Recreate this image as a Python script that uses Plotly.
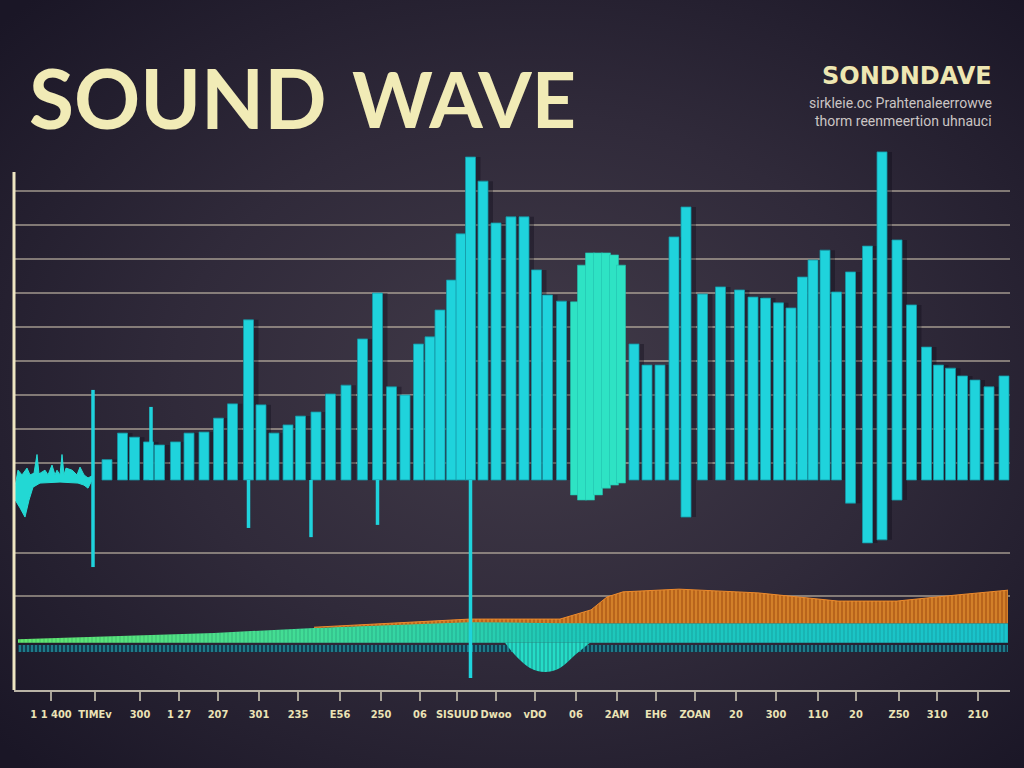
import base64
import plotly.graph_objects as go

# ---------------- data ----------------
# main amplitude bars (time units, amplitude units)
bar_t = [9.3, 10.85, 12.05, 13.45, 14.55, 16.15, 17.5, 19.0, 20.45, 21.85, 23.45, 24.7, 26.0, 27.4,
         28.65, 30.2, 31.65, 33.2, 34.85, 36.35, 37.75, 39.1, 40.45, 41.6, 42.6, 43.75, 44.7, 45.65,
         46.9, 48.2, 49.7, 51.0, 52.25, 53.35, 54.75, 62.0, 63.3, 64.6, 66.0, 67.2, 68.85, 70.65,
         72.55, 73.9, 75.15, 76.45, 77.7, 78.85, 79.9, 81.1, 82.25, 83.65, 85.35, 86.8, 88.3, 89.75,
         91.25, 92.45, 93.65, 94.85, 96.1, 97.5, 99.0]
bar_top = [6.0, 13.8, 12.6, 11.2, 10.3, 11.2, 13.8, 14.1, 18.2, 22.4, 47.1, 22.1, 13.8, 16.2,
           18.8, 20.0, 25.3, 27.9, 41.5, 55.0, 27.4, 25.0, 40.0, 42.1, 50.0, 58.8, 72.4, 95.0,
           87.9, 75.6, 77.4, 77.4, 61.8, 54.4, 52.6, 40.0, 33.8, 33.8, 71.5, 80.3, 54.7, 56.8,
           55.9, 53.8, 53.5, 52.1, 50.6, 59.7, 64.7, 67.6, 55.3, 61.2, 68.8, 96.5, 70.6, 51.5,
           39.1, 33.8, 32.9, 30.6, 29.4, 27.4, 30.6]
bar_bottom = [0, 0, 0, 0, 0, 0, 0, 0, 0, 0, 0, 0, 0, 0,
              0, 0, 0, 0, 0, 0, 0, 0, 0, 0, 0, 0, 0, 0,
              0, 0, 0, 0, 0, 0, 0, 0, 0, 0, 0, -10.9, 0, 0,
              0, 0, 0, 0, 0, 0, 0, 0, 0, -6.8, -18.5, -17.6, -5.9, 0,
              0, 0, 0, 0, 0, 0, 0]

# green "blob" section
blob_t = [56.1, 56.8, 57.6, 58.4, 59.2, 60.0, 60.7]
blob_top = [52.4, 63.2, 66.8, 66.8, 66.8, 66.2, 63.2]
blob_bottom = [-4.4, -5.9, -5.9, -4.4, -2.4, -1.5, -0.9]

# thin spikes
spike_t = [7.9, 13.7, 23.45, 29.7, 36.35, 45.65]
spike_top = [26.5, 21.5, 0, 0, 0, 0]
spike_bottom = [-25.6, 0, -14.1, -16.8, -13.2, -58.2]

# left noisy waveform envelope
wave_upper_t = [0.0, 0.4, 0.8, 1.3, 1.6, 2.0, 2.3, 2.5, 3.1, 3.4, 3.8, 4.1, 4.3, 4.6, 4.8,
                5.0, 5.2, 5.8, 6.3, 6.6, 7.0, 7.4, 7.8]
wave_upper_a = [-3.5, 2.9, 1.5, 3.5, 1.5, 2.0, 7.5, 1.8, 2.9, 1.5, 4.4, 1.5, 2.9, 1.5, 7.5,
                1.5, 3.5, 2.9, 1.5, 3.8, 1.5, 0.6, 1.2]
wave_lower_t = [7.8, 7.4, 7.0, 6.4, 4.6, 2.6, 1.9, 1.5, 1.1, 0.6, 0.0]
wave_lower_a = [0.0, -2.4, -1.5, -0.9, -0.6, -0.9, -2.1, -5.9, -10.9, -8.2, -5.3]

# lower spectrum: orange layer
orange_t = [30.0, 45.6, 54.6, 56.1, 57.7, 59.3, 60.9, 66.5, 74.4, 82.4, 88.3, 94.3, 99.4]
orange_top = [-43.3, -40.9, -40.9, -39.7, -38.2, -34.4, -32.9, -32.1, -33.2, -35.6, -35.6, -33.8, -32.4]
orange_base = [-43.5, -41.8, -42.1, -42.1, -42.1, -42.1, -42.1, -42.1, -42.1, -42.1, -42.1, -42.1, -42.1]

# lower spectrum: green/teal band
band_t = [0.4, 10.0, 20.0, 30.0, 40.0, 45.6, 58.0, 99.4]
band_top = [-46.8, -45.9, -45.0, -43.5, -42.1, -41.5, -42.1, -42.1]
band_base = -47.9

# bowl dip under the band
bowl_t = [49.1, 50.1, 51.6, 53.1, 54.6, 56.1, 57.6]
bowl_bottom = [-47.9, -51.5, -55.3, -56.5, -55.3, -51.5, -47.9]

# dotted sample row
dots_t = [0.4, 99.4]
dots_top = -48.5
dots_bottom = -50.6

# axis ticks
tick_t = [3.7, 8.1, 12.6, 16.5, 20.4, 24.5, 28.4, 32.6, 36.7, 40.6, 44.3, 48.2,
          52.1, 56.2, 60.3, 64.2, 68.1, 72.2, 76.2, 80.4, 84.2, 88.5, 92.3, 96.4]
tick_text = ["1 1 400", "TIMEv", "300", "1 27", "207", "301", "235", "E56", "250", "06", "SISUUD", "Dwoo",
             "vDO", "06", "2AM", "EH6", "ZOAN", "20", "300", "110", "20", "Z50", "310", "210"]
grid_vals = [85, 75, 65, 55, 45, 35, 25, 15, 5, -21.5, -34]

# ---------------- layout geometry ----------------
W, H = 1024, 768
ML, MR, MT, MB = 14, 14, 150, 78
PW, PH = W - ML - MR, H - MT - MB
X_RANGE = [0, 99.6]
Y_RANGE = [-61.76, 97.06]
Y_AXIS_TOP = 90.6


def px(x):
    return (x - ML) / PW


def py(y):
    return (H - MB - y) / PH


CYAN = "#1fd3dc"
CYAN_EDGE = "#1595a3"
CREAM = "#f1ebb6"

fig = go.Figure()

# lower band (green -> teal gradient)
fig.add_trace(go.Scatter(x=band_t, y=[band_base] * len(band_t), mode="lines",
                         line=dict(width=0), hoverinfo="skip", showlegend=False))
fig.add_trace(go.Scatter(x=band_t, y=band_top, mode="lines", line=dict(width=0),
                         fill="tonexty",
                         fillgradient=dict(type="horizontal",
                                           colorscale=[[0, "#63e86e"], [0.3, "#3fdc98"],
                                                       [0.55, "#1ec9b9"], [1, "#19c3cc"]]),
                         hoverinfo="skip", showlegend=False))
# stripe texture on band
fig.add_trace(go.Scatter(x=band_t, y=[band_base] * len(band_t), mode="lines",
                         line=dict(width=0), hoverinfo="skip", showlegend=False))
fig.add_trace(go.Scatter(x=band_t, y=band_top, mode="lines", line=dict(width=0),
                         fill="tonexty", fillcolor="rgba(0,0,0,0)",
                         fillpattern=dict(shape="|", size=4, solidity=0.3,
                                          fgcolor="rgba(8,60,70,0.45)", bgcolor="rgba(0,0,0,0)"),
                         hoverinfo="skip", showlegend=False))

# orange layer
fig.add_trace(go.Scatter(x=orange_t, y=orange_base, mode="lines", line=dict(width=0),
                         hoverinfo="skip", showlegend=False))
fig.add_trace(go.Scatter(x=orange_t, y=orange_top, mode="lines",
                         line=dict(width=1, color="#ee8a2c"),
                         fill="tonexty", fillcolor="#d9801f",
                         fillpattern=dict(shape="|", size=4, solidity=0.45,
                                          fgcolor="#f3a23a", bgcolor="#b8641c"),
                         hoverinfo="skip", showlegend=False))

# dotted row
fig.add_trace(go.Scatter(x=dots_t, y=[dots_bottom] * len(dots_t), mode="lines",
                         line=dict(width=0), hoverinfo="skip", showlegend=False))
fig.add_trace(go.Scatter(x=dots_t, y=[dots_top] * len(dots_t), mode="lines",
                         line=dict(width=0), fill="tonexty", fillcolor="#15485a",
                         fillpattern=dict(shape="|", size=4, solidity=0.45,
                                          fgcolor="#2bc4cf", bgcolor="#123e50"),
                         hoverinfo="skip", showlegend=False))

# bowl
fig.add_trace(go.Scatter(x=bowl_t, y=[band_base] * len(bowl_t), mode="lines",
                         line=dict(width=0), hoverinfo="skip", showlegend=False))
fig.add_trace(go.Scatter(x=bowl_t, y=bowl_bottom, mode="lines", line=dict(width=0, shape="spline"),
                         fill="tonexty", fillcolor="#22d6c4",
                         fillpattern=dict(shape="|", size=4, solidity=0.3,
                                          fgcolor="#14606a", bgcolor="#25dcc6"),
                         hoverinfo="skip", showlegend=False))

# left waveform
fig.add_trace(go.Scatter(x=wave_upper_t + wave_lower_t, y=wave_upper_a + wave_lower_a,
                         mode="lines", line=dict(width=1, color="#27dcd6"),
                         fill="toself", fillcolor="#22d8d4", hoverinfo="skip", showlegend=False))

bar_len = [t - b for t, b in zip(bar_top, bar_bottom)]
# soft drop shadow of bars
fig.add_trace(go.Bar(x=bar_t, y=bar_len, base=bar_bottom, width=1.2, offset=-0.2,
                     marker=dict(color="rgba(12,8,22,0.35)", line=dict(width=0)),
                     hoverinfo="skip", showlegend=False))
# main bars
fig.add_trace(go.Bar(x=bar_t, y=bar_len, base=bar_bottom,
                     width=1.0, marker=dict(color=CYAN, line=dict(color=CYAN_EDGE, width=0.8)),
                     hoverinfo="skip", showlegend=False))
# green blob
fig.add_trace(go.Bar(x=blob_t, y=[t - b for t, b in zip(blob_top, blob_bottom)], base=blob_bottom,
                     width=0.9, marker=dict(color="#2ee3c4", line=dict(color="#22bfae", width=0.6)),
                     hoverinfo="skip", showlegend=False))

# spikes
sx, sy = [], []
for t, top, bot in zip(spike_t, spike_top, spike_bottom):
    sx += [t, t, None]
    sy += [bot, top, None]
fig.add_trace(go.Scatter(x=sx, y=sy, mode="lines", line=dict(color=CYAN, width=3.5),
                         hoverinfo="skip", showlegend=False))

# background vignette
svg = ('<svg xmlns="http://www.w3.org/2000/svg" width="1024" height="768">'
       '<defs><radialGradient id="g" cx="52%" cy="50%" r="70%">'
       '<stop offset="0" stop-color="#423b49"/><stop offset="0.5" stop-color="#302a3a"/>'
       '<stop offset="1" stop-color="#1a1626"/></radialGradient></defs>'
       '<rect width="1024" height="768" fill="url(#g)"/></svg>')
src = "data:image/svg+xml;base64," + base64.b64encode(svg.encode()).decode()

fig.update_layout(
    width=W, height=H,
    margin=dict(l=ML, r=MR, t=MT, b=MB, pad=0),
    paper_bgcolor="#241f30", plot_bgcolor="rgba(0,0,0,0)",
    barmode="overlay",
    images=[dict(source=src, xref="paper", yref="paper", x=-ML / PW, y=1 + MT / PH,
                 sizex=W / PW, sizey=H / PH, xanchor="left", yanchor="top",
                 sizing="stretch", layer="below")],
    xaxis=dict(range=X_RANGE, showgrid=False, zeroline=False, showline=True,
               linecolor="#b9b3a6", linewidth=2, ticks="outside", ticklen=9, tickwidth=1.5,
               tickcolor="#a8a297", tickvals=tick_t, ticktext=tick_text, tickangle=0,
               ticklabelstandoff=4,
               tickfont=dict(family="DejaVu Sans Condensed, DejaVu Sans",
                             size=11, color="#ebe3b6", weight="bold")),
    yaxis=dict(range=Y_RANGE, showgrid=True, gridcolor="rgba(205,195,175,0.55)", gridwidth=1.5,
               tickvals=grid_vals, showticklabels=False, zeroline=False, showline=False),
    shapes=[dict(type="line", xref="x domain", yref="y", x0=0, x1=0, y0=Y_RANGE[0], y1=Y_AXIS_TOP,
                 line=dict(color="#efe6c2", width=3), layer="above")],
    annotations=[
        dict(text="SOUND", x=px(27), y=py(97), xref="paper", yref="paper", xanchor="left",
             yanchor="middle", showarrow=False,
             font=dict(family="Lato, Open Sans", size=82, color=CREAM, weight="bold")),
        dict(text="WAVE", x=px(350), y=py(98), xref="paper", yref="paper", xanchor="left",
             yanchor="middle", showarrow=False,
             font=dict(family="Lato, Open Sans", size=77, color=CREAM, weight="bold")),
        dict(text="SONDNDAVE", x=px(994), y=py(76), xref="paper", yref="paper", xanchor="right",
             yanchor="middle", showarrow=False,
             font=dict(family="DejaVu Sans", size=24, color="#eee7b2", weight="bold")),
        dict(text="sirkleie.oc Prahtenaleerrowve", x=px(994), y=py(103), xref="paper", yref="paper",
             xanchor="right", yanchor="middle", showarrow=False,
             font=dict(family="Roboto, DejaVu Sans", size=14, color="#cbc5c4")),
        dict(text="thorm reenmeertion uhnauci", x=px(994), y=py(121), xref="paper", yref="paper",
             xanchor="right", yanchor="middle", showarrow=False,
             font=dict(family="Roboto, DejaVu Sans", size=14, color="#cbc5c4")),
    ],
)

fig.write_html("out.html")
